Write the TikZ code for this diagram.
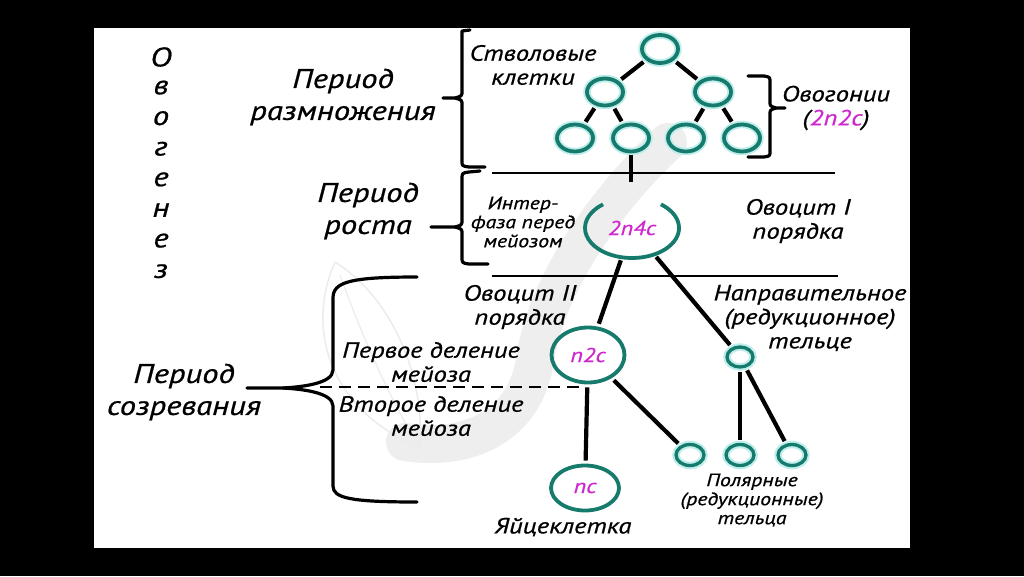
\documentclass[tikz,border=0pt]{standalone}
\usepackage{fontspec}
\setmainfont{PT Sans}[ItalicFeatures={FakeStretch=1.21,FakeBold=0.7}]
\usetikzlibrary{shapes.geometric}
\definecolor{tealc}{RGB}{22,122,108}
\definecolor{glowc}{RGB}{190,238,236}
\definecolor{magc}{RGB}{205,40,205}
\tikzset{
  bigtxt/.style={font=\itshape\fontsize{27}{32}\selectfont, align=center, inner sep=0pt},
  midtxt/.style={font=\itshape\fontsize{22}{24}\selectfont, align=center, inner sep=0pt},
  smltxt/.style={font=\itshape\fontsize{18}{19}\selectfont, align=center, inner sep=0pt},
  vlet/.style={font=\itshape\fontsize{27}{30}\selectfont, inner sep=0pt},
  cell/.style={ellipse, draw=tealc, line width=3.8pt, inner sep=0pt, preaction={draw=glowc, line width=7.5pt}},
  bigcell/.style={ellipse, draw=tealc, line width=3.8pt, inner sep=0pt, font=\itshape\fontsize{20}{20}\selectfont, text=magc},
  link/.style={line width=4.2pt, black, shorten <=3pt, shorten >=3pt},
  brace/.style={line width=3.2pt, black, line cap=round, line join=round},
  rule/.style={line width=2.8pt, black},
}
\begin{document}
\begin{tikzpicture}[x=1pt, y=-1pt]
\useasboundingbox (0,0) rectangle (1024,576);
\fill[black] (0,0) rectangle (1024,576);
\fill[white] (94,28) rectangle (910,548);
% watermark
\draw[gray!13, line width=38pt, line cap=round] (668,142) .. controls (600,205) and (545,290) .. (535,360) .. controls (525,425) and (470,452) .. (405,442);
\draw[gray!15, line width=1.5pt] (335,262) .. controls (305,330) and (330,410) .. (420,448);
\draw[gray!15, line width=1.5pt] (335,262) .. controls (395,300) and (425,380) .. (420,448);
\draw[gray!15, line width=1.2pt] (340,275) .. controls (360,330) and (385,390) .. (418,445);
% vertical word
\foreach \l [count=\i from 0] in {О,в,о,г,е,н,е,з}{
  \node[vlet] (v\i) at (161,{57+\i*30.6}) {\l};
}
% left labels
\node[bigtxt] (prazm) at (343,97) {Период\\размножения};
\node[bigtxt] (prost) at (368,211) {Период\\роста};
\node[bigtxt] (psozr) at (184,392) {Период\\созревания};
% brackets
\draw[brace] (470,30) -- (462,31) -- (462,91) .. controls (462,96) .. (455,98) -- (443,98);
\draw[brace] (455,98) .. controls (462,100) .. (462,105) -- (462,161) .. controls (462,166) .. (469,167) -- (485,167);
\draw[brace] (480,171) -- (469,172) .. controls (462,173) .. (462,179) -- (462,220) .. controls (462,225) .. (455,227) -- (431,227);
\draw[brace] (455,227) .. controls (462,229) .. (462,234) -- (462,257) .. controls (462,263) .. (469,264) -- (488,264);
\draw[brace] (417,277) .. controls (350,277) and (333,282) .. (333,298) -- (333,370) .. controls (333,384) and (300,387) .. (283,388) -- (247,388);
\draw[brace] (283,388) .. controls (300,389) and (333,392) .. (333,406) -- (333,486) .. controls (333,498) and (350,502) .. (417,502);
% rules
\draw[rule] (492,173) -- (835,173);
\draw[rule] (492,276) -- (838,276);
% tree
\node[cell, minimum width=36pt, minimum height=28pt] (r) at (660,49) {};
\node[cell, minimum width=36pt, minimum height=27pt] (a) at (605,92) {};
\node[cell, minimum width=36pt, minimum height=27pt] (b) at (713,92) {};
\node[cell, minimum width=36pt, minimum height=27pt] (a1) at (575,138) {};
\node[cell, minimum width=36pt, minimum height=27pt] (a2) at (631,138) {};
\node[cell, minimum width=36pt, minimum height=27pt] (b1) at (686,138) {};
\node[cell, minimum width=36pt, minimum height=27pt] (b2) at (742,138) {};
\draw[link] (r) -- (a);
\draw[link] (r) -- (b);
\draw[link] (a) -- (a1);
\draw[link] (a) -- (a2);
\draw[link] (b) -- (b1);
\draw[link] (b) -- (b2);
\coordinate (a2end) at (631,182);
\draw[line width=4.2pt] (a2.south) ++(0,2) -- (a2end);
% texts top
\node[midtxt] (stem) at (533,65) {Стволовые\\клетки};
\draw[brace] (748,76) -- (764,76) .. controls (770,77) .. (770,83) -- (770,102) .. controls (770,106) .. (776,108) -- (785,108);
\draw[brace] (776,108) .. controls (770,110) .. (770,114) -- (770,151) .. controls (770,156) .. (764,157) -- (748,157);
\node[midtxt] (ovog) at (836,108) {Овогонии\\(\textcolor{magc}{2n2c})};
% growth
\node[ellipse, minimum width=94pt, minimum height=60pt, inner sep=0pt, font=\itshape\fontsize{20}{20}\selectfont, text=magc] (oc1) at (632,228) {2n4c};
\draw[tealc, line width=3.8pt] (oc1.center) ++(308:47 and 30) arc[start angle=308, end angle=592, x radius=47, y radius=30];
\node[smltxt] (inter) at (523,222) {Интер-\\фаза перед\\мейозом};
\node[midtxt] (ovoc1) at (798,221) {Овоцит I\\порядка};
% maturation
\node[bigcell, minimum width=73pt, minimum height=55pt] (n2c) at (588,355) {n2c};
\node[bigcell, minimum width=68pt, minimum height=45pt] (nc) at (585,488) {nc};
\node[cell, minimum width=26pt, minimum height=20pt, line width=3.3pt] (pb1) at (740,357) {};
\node[cell, minimum width=28pt, minimum height=21pt, line width=3.3pt] (pb2) at (690,455) {};
\node[cell, minimum width=28pt, minimum height=21pt, line width=3.3pt] (pb3) at (740,455) {};
\node[cell, minimum width=28pt, minimum height=21pt, line width=3.3pt] (pb4) at (792,455) {};
\draw[link] (oc1) -- (n2c);
\draw[link] (oc1) -- (pb1);
\draw[link] (n2c) -- (nc);
\draw[link] (n2c) -- (pb2);
\draw[link] (pb1) -- (pb3);
\draw[link] (pb1) -- (pb4);
\coordinate (dashL) at (320,387);
\coordinate (dashR) at (584,387);
\draw[line width=2.8pt, dash pattern=on 12pt off 7pt] (dashL) -- (dashR);
\node[midtxt] (ovoc2) at (520,307) {Овоцит II\\порядка};
\node[midtxt] (div1) at (431,362) {Первое деление\\мейоза};
\node[midtxt] (div2) at (431,416) {Второе деление\\мейоза};
\node[midtxt] (napr) at (810,318) {Направительное\\(редукционное)\\тельце};
\node[smltxt] (polar) at (752,500) {Полярные\\(редукционные)\\тельца};
\node[midtxt] (egg) at (563,527) {Яйцеклетка};
\end{tikzpicture}
\end{document}
